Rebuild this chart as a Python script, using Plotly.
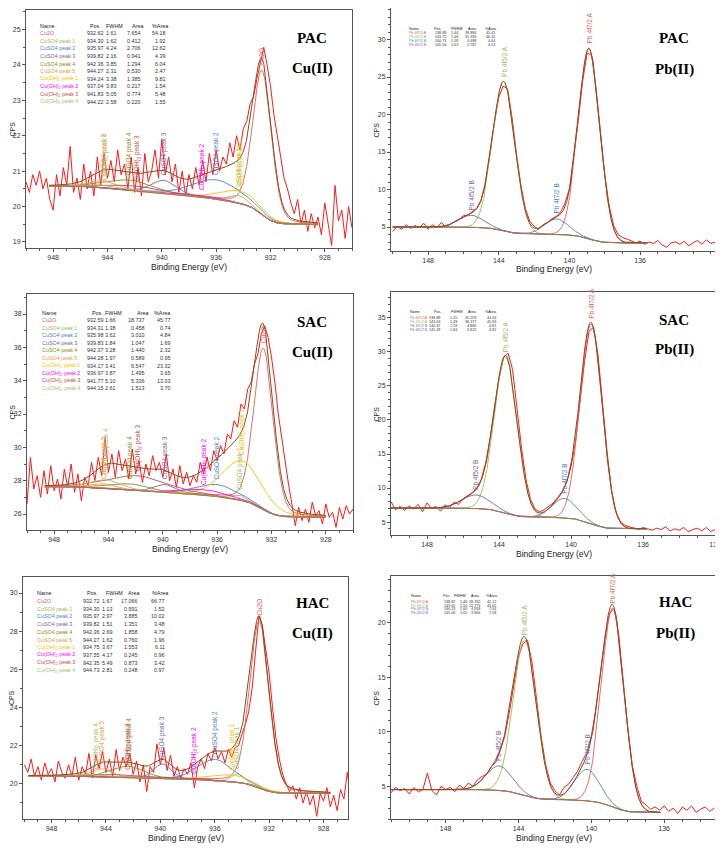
import numpy as np
import plotly.graph_objects as go

# the page body adds an 8 px margin, so the figure is drawn 8 px smaller and all
# pixel positions below are given in page pixels and shifted by OFF
OFF = 8
W, H = 723 - OFF, 849 - OFF

# ---------------- component names / colours ----------------
cu_names = ['Cu2O', 'CuSO4 peak 1', 'CuSO4 peak 2', 'CuSO4 peak 3', 'CuSO4 peak 4',
            'CuSO4 peak 5', 'Cu(OH)<sub>2</sub> peak 1', 'Cu(OH)<sub>2</sub> peak 2',
            'Cu(OH)<sub>2</sub> peak 3', 'Cu(OH)<sub>2</sub> peak 4']
pb_names = ['Pb 4f7/2 A', 'Pb 4f5/2 A', 'Pb 4f7/2 B', 'Pb 4f5/2 B']
cu_colors = ['#e0605a', '#9bbb59', '#4f81bd', '#8064a2', '#8c8c1e', '#f79646',
             '#ffc000', '#ff00ff', '#c0504d', '#a5c26b']
pb_colors = ['#e0605a', '#9bbb59', '#4f81bd', '#8064a2']

# ---------------- fit tables (Pos, FWHM, Area, %Area) ----------------
pac_cu_pos = [932.62, 934.30, 935.97, 939.82, 942.36, 944.27, 934.24, 937.04, 941.83, 944.22]
pac_cu_fwhm = [1.61, 1.62, 4.24, 2.16, 3.85, 2.31, 3.38, 3.83, 5.05, 2.58]
pac_cu_area = [7.654, 0.412, 2.706, 0.941, 1.294, 0.530, 1.385, 0.217, 0.774, 0.220]
pac_cu_pct = [54.18, 1.92, 12.62, 4.39, 6.04, 2.47, 9.81, 1.54, 5.48, 1.55]

sac_cu_pos = [932.59, 934.31, 935.98, 939.83, 942.37, 944.28, 934.17, 936.97, 941.77, 944.15]
sac_cu_fwhm = [1.66, 1.38, 3.62, 1.84, 3.28, 1.97, 3.41, 3.87, 5.10, 2.61]
sac_cu_area = [18.737, 0.458, 3.010, 1.047, 1.440, 0.589, 9.547, 1.495, 5.336, 1.513]
sac_cu_pct = [45.77, 0.74, 4.84, 1.69, 2.32, 0.95, 23.32, 3.65, 13.03, 3.70]

hac_cu_pos = [932.72, 934.30, 935.97, 939.82, 942.36, 944.27, 934.75, 937.55, 942.35, 944.73]
hac_cu_fwhm = [1.67, 1.13, 2.97, 1.51, 2.69, 1.62, 3.67, 4.17, 5.49, 2.81]
hac_cu_area = [17.066, 0.591, 3.885, 1.351, 1.858, 0.760, 1.553, 0.245, 0.873, 0.248]
hac_cu_pct = [66.77, 1.52, 10.02, 3.48, 4.79, 1.96, 6.11, 0.96, 3.42, 0.97]

pac_pb_pos = [138.89, 143.72, 140.73, 145.56]
pac_pb_fwhm = [1.44, 1.48, 1.58, 1.63]
pac_pb_area = [38.894, 31.333, 3.488, 2.787]
pac_pb_pct = [45.41, 46.42, 4.04, 4.13]

sac_pb_pos = [138.88, 143.63, 140.37, 145.28]
sac_pb_fwhm = [1.45, 1.49, 1.59, 1.84]
sac_pb_area = [45.259, 36.377, 4.880, 3.922]
sac_pb_pct = [44.64, 45.63, 4.81, 4.92]

hac_pb_pos = [138.82, 143.65, 140.23, 145.06]
hac_pb_fwhm = [1.46, 1.50, 1.60, 1.65]
hac_pb_area = [28.332, 22.773, 4.934, 3.966]
hac_pb_pct = [42.12, 43.65, 7.34, 7.58]

# background end points: (low BE, CPS there, high BE, CPS there)
pac_cu_bg = (928.5, 19.49, 948.3, 20.58)
sac_cu_bg = (928.0, 25.80, 948.7, 27.64)
hac_cu_bg = (927.5, 19.50, 949.7, 20.42)
pac_pb_bg = (135.6, 2.87, 150.0, 5.00)
sac_pb_bg = (135.8, 4.00, 150.0, 7.06)
hac_pb_bg = (136.2, 2.60, 151.0, 4.70)

# ---------------- measured spectra (CPS, 0.25 eV steps, high -> low BE) ----------------
pac_cu_start = 950.0
pac_cu_cps = [20.7, 20.4, 20.9, 20.6, 21.0, 20.5, 20.8, 20.2, 19.9, 20.9, 20.3, 21.1, 20.6, 21.7, 20.4, 20.8,
              20.2, 21.2, 20.5, 21.0, 20.3, 21.4, 20.6, 21.5, 20.8, 21.3, 20.7, 21.6, 20.9, 21.2, 20.5, 21.4,
              20.4, 21.1, 20.3, 21.5, 20.7, 21.0, 21.6, 20.8, 21.9, 20.9, 21.4, 20.7, 21.2, 20.4, 21.0, 20.3,
              20.9, 20.5, 21.1, 20.6, 21.3, 20.7, 21.5, 20.9, 21.6, 21.0, 21.4, 21.2, 21.8, 21.4, 22.0, 21.6,
              22.2, 22.4, 22.9, 23.1, 23.6, 24.1, 24.5, 24.0, 23.4, 22.6, 22.0, 21.4, 20.8, 20.5, 20.1, 19.8,
              20.2, 19.5, 19.9, 19.3, 19.8, 19.4, 19.7, 19.2, 20.1, 19.5, 18.9, 20.6, 19.6, 19.9, 19.1, 20.0,
              19.4]
sac_cu_start = 950.0
sac_cu_cps = [26.6, 29.4, 27.5, 28.3, 27.0, 28.6, 27.2, 28.9, 27.4, 28.1, 26.9, 28.7, 27.6, 29.0, 27.3, 28.4,
              26.8, 28.2, 27.7, 29.1, 28.0, 29.4, 28.3, 30.6, 28.5, 29.6, 28.2, 29.8, 28.6, 29.3, 28.1, 29.9,
              28.4, 29.2, 27.9, 29.0, 28.3, 29.5, 28.6, 29.1, 28.2, 29.6, 28.0, 28.7, 27.6, 28.9, 27.8, 28.5,
              27.7, 28.3, 27.9, 29.1, 28.4, 29.4, 28.6, 29.8, 29.2, 30.1, 29.6, 30.8, 30.5, 31.6, 31.2, 32.6,
              32.3, 33.5, 33.9, 35.0, 35.6, 36.8, 37.3, 36.6, 35.4, 33.9, 32.0, 30.5, 29.0, 27.8, 26.6, 25.3,
              26.4, 25.6, 26.3, 25.5, 26.7, 25.9, 26.2, 25.4, 26.6, 25.8, 26.1, 25.2, 26.4, 25.7, 26.5, 26.0,
              26.3]
hac_cu_start = 950.0
hac_cu_cps = [21.0, 20.6, 21.3, 20.4, 20.9, 20.2, 21.1, 20.5, 20.8, 20.1, 21.2, 20.6, 20.3, 21.0, 20.4, 21.4,
              20.2, 20.9, 20.5, 21.6, 20.3, 21.5, 20.8, 21.7, 20.6, 21.3, 20.4, 21.8, 20.7, 21.4, 20.9, 21.6,
              20.5, 21.2, 20.1, 21.0, 19.6, 20.9, 20.6, 22.1, 21.0, 21.9, 20.7, 21.5, 20.4, 20.9, 20.3, 20.8,
              20.5, 21.1, 19.8, 20.9, 21.3, 20.8, 21.6, 21.2, 21.9, 21.3, 21.7, 21.1, 21.8, 21.4, 21.9, 22.0,
              22.6, 23.1, 23.8, 25.0, 26.9, 28.8, 28.3, 27.0, 25.8, 24.0, 22.4, 21.3, 20.5, 20.0, 19.6, 19.9,
              19.2, 19.8, 19.0, 19.6, 18.9, 19.4, 18.3, 19.5, 19.1, 19.8, 18.8, 19.4, 18.6, 19.7, 19.2, 20.6,
              19.3]
pac_pb_start = 150.0
pac_pb_cps = [4.4, 5.1, 4.7, 5.3, 4.8, 5.2, 4.9, 5.5, 4.7, 5.3, 4.9, 5.6, 5.0, 5.4, 5.7, 6.0,
              6.5, 6.6, 7.1, 7.5, 8.6, 11.0, 14.6, 18.9, 22.3, 23.8, 23.4, 19.6, 14.8, 10.6, 7.5, 5.8,
              5.1, 4.7, 5.3, 5.6, 6.1, 6.4, 7.0, 8.2, 10.1, 14.3, 19.2, 24.5, 28.2, 27.9, 23.6, 17.8,
              11.9, 7.8, 5.2, 4.0, 3.6, 3.4, 3.2, 2.9, 3.1, 2.7, 3.0, 2.8, 3.2, 2.6, 2.3, 2.9,
              3.0, 2.7, 3.1, 2.5, 2.9, 3.2, 2.7, 3.3, 2.8, 3.0]
sac_pb_start = 150.0
sac_pb_cps = [8.0, 6.8, 7.3, 6.7, 7.4, 6.9, 7.6, 6.5, 7.8, 7.0, 7.3, 6.6, 7.5, 7.1, 7.9, 7.6,
              8.4, 8.8, 9.3, 9.9, 11.2, 13.6, 17.3, 22.0, 26.1, 29.2, 29.8, 27.4, 21.5, 15.8, 11.2, 8.3,
              6.9, 6.5, 6.8, 7.3, 7.8, 8.6, 9.5, 10.8, 13.2, 16.9, 22.5, 28.7, 33.1, 33.6, 29.4, 22.3,
              15.2, 9.6, 6.4, 5.0, 4.5, 4.3, 4.1, 3.9, 4.2, 4.0, 3.8, 4.1, 3.9, 4.3, 3.7, 4.0,
              3.8, 4.2, 3.6, 3.9, 4.1, 3.7, 4.2, 3.6, 3.9]
hac_pb_start = 151.0
hac_pb_cps = [4.4, 4.9, 4.6, 4.8, 4.3, 4.9, 4.5, 4.7, 6.2, 4.6, 4.2, 5.0, 4.7, 4.9, 4.5, 5.1,
              4.8, 5.3, 5.0, 5.6, 5.9, 6.1, 6.8, 7.2, 8.3, 9.6, 11.8, 14.2, 16.9, 18.1, 18.4, 16.3,
              13.0, 9.5, 6.9, 5.3, 4.6, 4.2, 4.9, 5.2, 5.8, 6.4, 7.3, 8.1, 9.6, 12.1, 15.3, 18.6,
              20.9, 21.3, 19.0, 14.6, 10.4, 6.9, 5.0, 3.6, 3.3, 2.9, 3.1, 2.8, 3.2, 2.7, 3.0, 2.5,
              3.1, 2.8, 3.2, 2.6, 2.9, 3.1, 2.7, 3.0]
STEP = 0.25

# ---------------- panel layout (page pixel positions) ----------------
panels = [
    dict(sample='PAC', metal='Cu(II)', names=cu_names, colors=cu_colors, mix=0.2,
         tab=(pac_cu_pos, pac_cu_fwhm, pac_cu_area, pac_cu_pct), bg=pac_cu_bg,
         raw=(pac_cu_start, pac_cu_cps), frame=(26, 352, 10, 248), xr=(950, 926), yr=(18.83, 25.55),
         ydt=1, ymin=0.5, xt=[948, 944, 940, 936, 932, 928],
         table=dict(x=38, hy=26, y0=33.3, dy=7.6, hc=[95, 114, 137, 160], cr=[106, 119, 143, 168], fs=5.4),
         title=(312, 38, 68), xlab_y=267, cps_x=11.5),
    dict(sample='PAC', metal='Pb(II)', names=pb_names, colors=pb_colors, mix=0.0,
         tab=(pac_pb_pos, pac_pb_fwhm, pac_pb_area, pac_pb_pct), bg=pac_pb_bg,
         raw=(pac_pb_start, pac_pb_cps), frame=(391, 717, 8, 251), xr=(150.1, 131.65), yr=(1.8, 34.2),
         ydt=5, ymin=1, xt=[148, 144, 140, 136],
         table=dict(x=407, hy=29, y0=33.3, dy=3.85, hc=[437, 456, 472, 491], cr=[448, 460, 478, 497], fs=3.7),
         title=(674, 38, 70), xlab_y=269, cps_x=376),
    dict(sample='SAC', metal='Cu(II)', names=cu_names, colors=cu_colors, mix=0.2,
         tab=(sac_cu_pos, sac_cu_fwhm, sac_cu_area, sac_cu_pct), bg=sac_cu_bg,
         raw=(sac_cu_start, sac_cu_cps), frame=(27, 353, 294, 530), xr=(950, 926), yr=(25.04, 39.2),
         ydt=2, ymin=1, xt=[948, 944, 940, 936, 932, 928],
         table=dict(x=40, hy=313, y0=320, dy=7.6, hc=[97, 113, 142, 162], cr=[106, 118, 147, 173], fs=5.4),
         title=(312, 322, 352), xlab_y=549, cps_x=11.5),
    dict(sample='SAC', metal='Pb(II)', names=pb_names, colors=pb_colors, mix=0.0,
         tab=(sac_pb_pos, sac_pb_fwhm, sac_pb_area, sac_pb_pct), bg=sac_pb_bg,
         raw=(sac_pb_start, sac_pb_cps), frame=(391, 717, 292, 535), xr=(150, 131.9), yr=(3.1, 38.8),
         ydt=5, ymin=1, xt=[148, 144, 140, 136, 132],
         table=dict(x=408, hy=312, y0=318.3, dy=3.9, hc=[437, 456, 472, 491], cr=[442, 459, 478, 498], fs=3.7),
         title=(674, 320, 350), xlab_y=554, cps_x=376),
    dict(sample='HAC', metal='Cu(II)', names=cu_names, colors=cu_colors, mix=0.2,
         tab=(hac_cu_pos, hac_cu_fwhm, hac_cu_area, hac_cu_pct), bg=hac_cu_bg,
         raw=(hac_cu_start, hac_cu_cps), frame=(23, 348, 577, 819), xr=(950.1, 926.2), yr=(18.16, 30.84),
         ydt=2, ymin=1, xt=[948, 944, 940, 936, 932, 928],
         table=dict(x=35, hy=593, y0=601, dy=7.7, hc=[92, 114, 133, 160], cr=[102, 115, 140, 167], fs=5.4),
         title=(312, 603, 633), xlab_y=838, cps_x=11),
    dict(sample='HAC', metal='Pb(II)', names=pb_names, colors=pb_colors, mix=0.0,
         tab=(hac_pb_pos, hac_pb_fwhm, hac_pb_area, hac_pb_pct), bg=hac_pb_bg,
         raw=(hac_pb_start, hac_pb_cps), frame=(391, 717, 576, 819), xr=(151.0, 133.1), yr=(2.0, 24.3),
         ydt=5, ymin=1, xt=[148, 144, 140, 136],
         table=dict(x=409, hy=596, y0=601.7, dy=3.85, hc=[446, 460, 475, 492], cr=[457, 469, 482, 498], fs=3.7),
         title=(675, 602, 633), xlab_y=838, cps_x=376),
]


def px(x):
    return min(max((x - OFF) / W, 0.0), 1.0)


def py(y):
    return min(max(1 - (y - OFF) / H, 0.0), 1.0)


def peak(x, pos, fwhm, area, m):
    u = ((x - pos) / fwhm) ** 2
    g = np.exp(-4 * np.log(2) * u)
    l = 1 / (1 + 4 * u)
    norm = fwhm * ((1 - m) * 1.0645 + m * np.pi / 2)
    return area / norm * ((1 - m) * g + m * l)


SANS = 'Liberation Sans, Arial, sans-serif'
fig = go.Figure()
annotations = []
layout = dict(width=W, height=H, margin=dict(l=0, r=0, t=0, b=0, autoexpand=False),
              paper_bgcolor='white', plot_bgcolor='white', showlegend=False)

for i, p in enumerate(panels):
    n = i + 1
    xa, ya = f'x{n}', f'y{n}'
    l, r, t, b = p['frame']
    pos, fwhm, area, pct = p['tab']

    # measured spectrum
    start, cps = p['raw']
    be = start - STEP * np.arange(len(cps))
    fig.add_trace(go.Scatter(x=be, y=cps, mode='lines', line=dict(color='#ff1a1a', width=1),
                             xaxis=xa, yaxis=ya, hoverinfo='skip'))

    # fitted components on a Shirley background
    lo_be, lo_v, hi_be, hi_v = p['bg']
    xf = np.linspace(lo_be, hi_be, 900)
    comps = np.array([peak(xf, pos[k], fwhm[k], area[k], p['mix']) for k in range(len(pos))])
    tot = comps.sum(0)
    cum = np.concatenate([[0], np.cumsum((tot[1:] + tot[:-1]) / 2 * np.diff(xf))])
    bg = lo_v + (hi_v - lo_v) * cum / cum[-1]

    for k in range(len(pos)):
        yk = bg + comps[k]
        fig.add_trace(go.Scatter(x=xf, y=yk, mode='lines', line=dict(color=p['colors'][k], width=0.9),
                                 xaxis=xa, yaxis=ya, hoverinfo='skip'))
        j = int(np.argmin(np.abs(xf - pos[k])))
        annotations.append(dict(xref=xa, yref=ya, x=pos[k], y=yk[j], text=p['names'][k],
                                textangle=-90, xanchor='center', yanchor='bottom', yshift=3,
                                showarrow=False, font=dict(family=SANS, size=6.5, color=p['colors'][k])))
    fig.add_trace(go.Scatter(x=xf, y=bg, mode='lines', line=dict(color='#a87a4a', width=1),
                             xaxis=xa, yaxis=ya, hoverinfo='skip'))
    fig.add_trace(go.Scatter(x=xf, y=bg + tot, mode='lines', line=dict(color='#8b4a1c', width=1),
                             xaxis=xa, yaxis=ya, hoverinfo='skip'))

    axis_common = dict(showline=True, linecolor='#555555', linewidth=1, mirror=True,
                       showgrid=False, zeroline=False, ticks='outside', ticklen=3, tickwidth=1,
                       tickcolor='#555555', ticklabeloverflow='allow',
                       tickfont=dict(family=SANS, size=7, color='#333333'))
    layout[f'xaxis{n}'] = dict(axis_common, domain=[px(l), px(r)], anchor=ya, range=list(p['xr']),
                               tickmode='array', tickvals=p['xt'], ticktext=[str(v) for v in p['xt']],
                               minor=dict(tickmode='linear', tick0=0, dtick=1, ticks='outside',
                                          ticklen=2, tickcolor='#555555'))
    layout[f'yaxis{n}'] = dict(axis_common, domain=[py(b), py(t)], anchor=xa, range=list(p['yr']),
                               tick0=0, dtick=p['ydt'],
                               minor=dict(tick0=0, dtick=p['ymin'], ticks='outside', ticklen=2,
                                          tickcolor='#555555'))

    # axis titles
    annotations.append(dict(xref='paper', yref='paper', x=px((l + r) / 2), y=py(p['xlab_y']),
                            text='Binding Energy (eV)', showarrow=False, xanchor='center', yanchor='middle',
                            font=dict(family=SANS, size=8.5, color='#222222')))
    annotations.append(dict(xref='paper', yref='paper', x=px(p['cps_x']), y=py((t + b) / 2),
                            text='CPS', textangle=-90, showarrow=False, xanchor='center', yanchor='middle',
                            font=dict(family=SANS, size=7, color='#222222')))

    # sample / metal title
    tx, ty1, ty2 = p['title']
    for txt, yy in ((p['sample'], ty1), (p['metal'], ty2)):
        annotations.append(dict(xref='paper', yref='paper', x=px(tx), y=py(yy), text=f'<b>{txt}</b>',
                                showarrow=False, xanchor='center', yanchor='middle',
                                font=dict(family='Liberation Serif, Times New Roman, serif', size=15,
                                          color='#000000')))

    # fit table
    tb = p['table']
    fs = tb['fs']
    annotations.append(dict(xref='paper', yref='paper', x=px(tb['x']), y=py(tb['hy']), text='Name',
                            showarrow=False, xanchor='left', yanchor='middle',
                            font=dict(family=SANS, size=fs, color='#222222')))
    for hdr, hc in zip(['Pos.', 'FWHM', 'Area', '%Area'], tb['hc']):
        annotations.append(dict(xref='paper', yref='paper', x=px(hc), y=py(tb['hy']), text=hdr,
                                showarrow=False, xanchor='center', yanchor='middle',
                                font=dict(family=SANS, size=fs, color='#222222')))
    for k in range(len(pos)):
        yy = tb['y0'] + k * tb['dy']
        annotations.append(dict(xref='paper', yref='paper', x=px(tb['x']), y=py(yy), text=p['names'][k],
                                showarrow=False, xanchor='left', yanchor='middle',
                                font=dict(family=SANS, size=fs, color=p['colors'][k])))
        vals = [f'{pos[k]:.2f}', f'{fwhm[k]:.2f}', f'{area[k]:.3f}', f'{pct[k]:.2f}']
        for v, cr in zip(vals, tb['cr']):
            annotations.append(dict(xref='paper', yref='paper', x=px(cr), y=py(yy), text=v,
                                    showarrow=False, xanchor='right', yanchor='middle',
                                    font=dict(family=SANS, size=fs, color='#333333')))

layout['annotations'] = annotations
fig.update_layout(**layout)
fig.write_html('out.html')
